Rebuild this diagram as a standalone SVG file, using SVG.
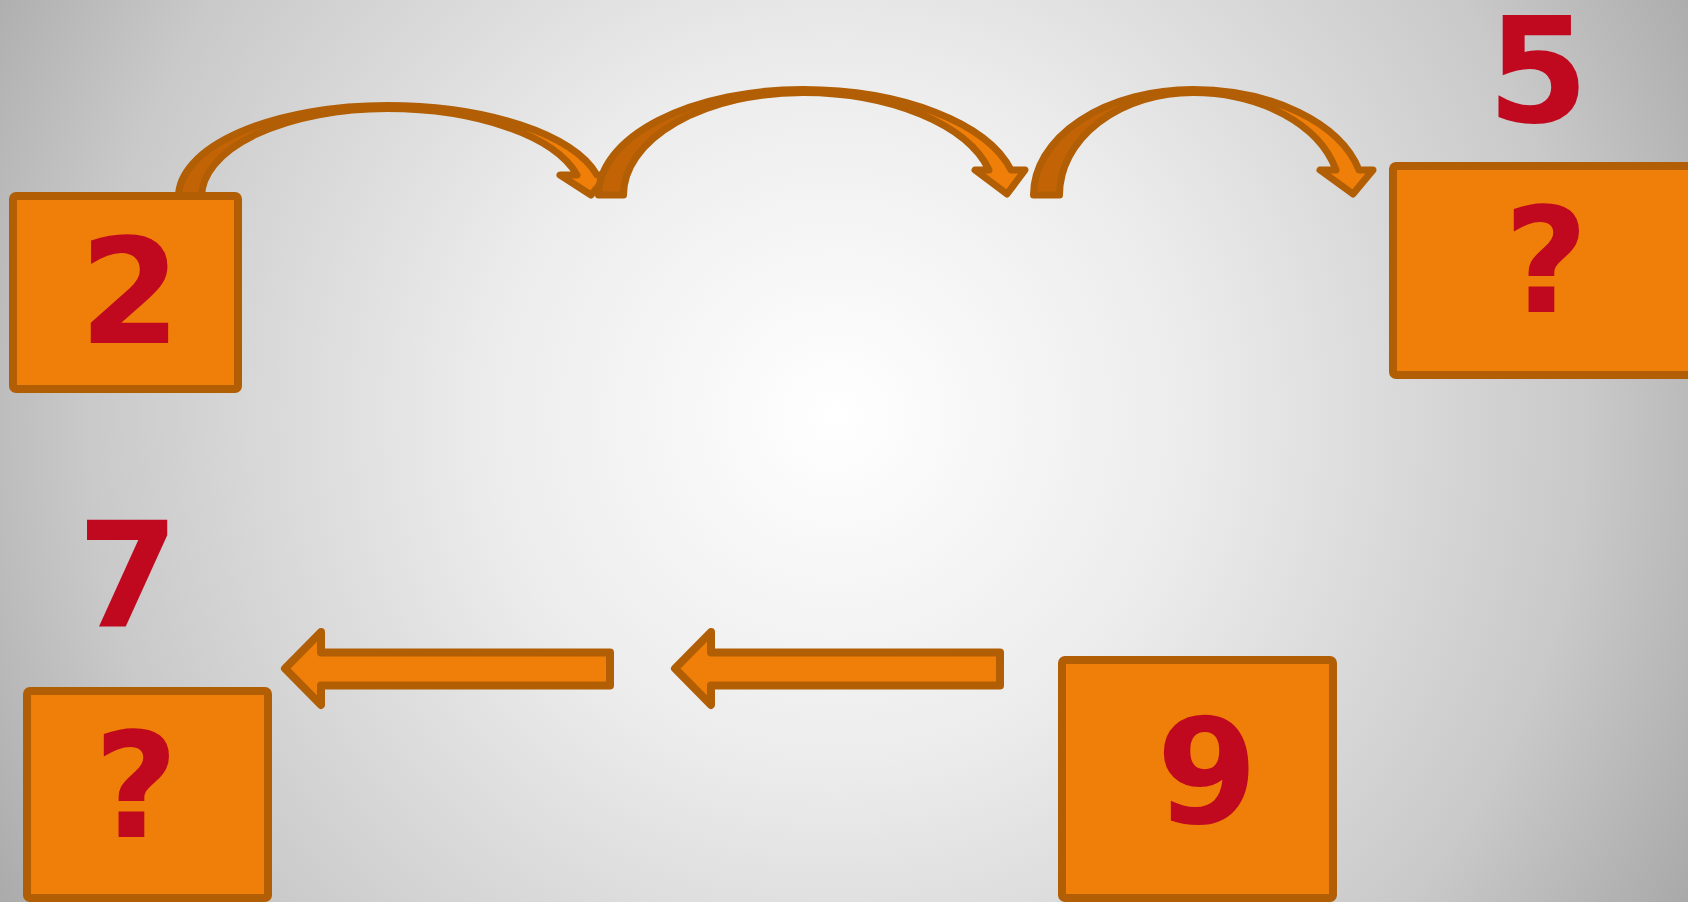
<svg xmlns="http://www.w3.org/2000/svg" width="1688" height="902" viewBox="0 0 1688 902">
<defs>
<radialGradient id="bg" gradientUnits="userSpaceOnUse" cx="836" cy="416" r="1000">
<stop offset="0" stop-color="#ffffff"/>
<stop offset="0.35" stop-color="#ececec"/>
<stop offset="0.75" stop-color="#c9c9c9"/>
<stop offset="1" stop-color="#a6a6a6"/>
</radialGradient>
<linearGradient id="c1" gradientUnits="userSpaceOnUse" x1="386" y1="0" x2="388" y2="0">
<stop offset="0" stop-color="#c26306"/><stop offset="1" stop-color="#f07f09"/>
</linearGradient>
<linearGradient id="c2" gradientUnits="userSpaceOnUse" x1="802" y1="0" x2="804" y2="0">
<stop offset="0" stop-color="#c26306"/><stop offset="1" stop-color="#f07f09"/>
</linearGradient>
<linearGradient id="c3" gradientUnits="userSpaceOnUse" x1="1192" y1="0" x2="1194" y2="0">
<stop offset="0" stop-color="#c26306"/><stop offset="1" stop-color="#f07f09"/>
</linearGradient>
<style>
.box{fill:#f07f09;stroke:#b15e05;stroke-width:8;stroke-linejoin:round}
.arr{stroke:#b15e05;stroke-width:7;stroke-linejoin:round}
.sa{fill:#f07f09;stroke:#b15e05;stroke-width:8;stroke-linejoin:round}
.t{font-family:"DejaVu Sans",sans-serif;font-weight:bold;font-size:146px;fill:#c0091e;text-anchor:middle}
</style>
</defs>
<rect x="0" y="0" width="1688" height="902" fill="url(#bg)"/>
<g id="connectors">
<path class="arr" fill="url(#c1)" d="M178.5,197 A208.5,91.5 0 0 1 387,105.5 A216.3,91.5 0 0 1 597,175 L608,175 L591,195 L560,175 L577,175 A196.2,88.5 0 0 0 387,108.5 A185.5,88.5 0 0 0 201.5,197 Z"/>
<path class="arr" fill="url(#c2)" d="M598.5,195 A204.5,105.5 0 0 1 803,89.5 A214.9,105.5 0 0 1 1011,170 L1025,170 L1007,194 L975,170 L989,170 A192.5,102.5 0 0 0 803,92.5 A179.5,102.5 0 0 0 623.5,195 Z"/>
<path class="arr" fill="url(#c3)" d="M1033.5,195 A159.5,105.5 0 0 1 1193,89.5 A171.5,105.5 0 0 1 1359,170 L1373,170 L1353,194 L1320,170 L1336,170 A148,102.5 0 0 0 1193,92.5 A133.5,102.5 0 0 0 1059.5,195 Z"/>
<path class="sa" d="M610,652.5 L321,652.5 L321,632 L285,668.5 L321,705 L321,685.5 L610,685.5 Z"/>
<path class="sa" d="M1000,652.5 L711,652.5 L711,632 L675,668.5 L711,705 L711,685.5 L1000,685.5 Z"/>
</g>
<g id="node-2">
<rect class="box" x="13" y="196" width="225" height="193" rx="3"/>
<text class="t" x="130" y="343">2</text>
</g>
<g id="label-5">
<text class="t" x="1538" y="122">5</text>
</g>
<g id="node-q1">
<rect class="box" x="1393" y="166" width="400" height="209" rx="3"/>
<text class="t" x="1546" y="312">?</text>
</g>
<g id="label-7">
<text class="t" x="128" y="627">7</text>
</g>
<g id="node-q2">
<rect class="box" x="27" y="691" width="241" height="207" rx="3"/>
<text class="t" x="136" y="837">?</text>
</g>
<g id="node-9">
<rect class="box" x="1062" y="660" width="271" height="238" rx="3"/>
<text class="t" x="1207" y="823">9</text>
</g>
</svg>
